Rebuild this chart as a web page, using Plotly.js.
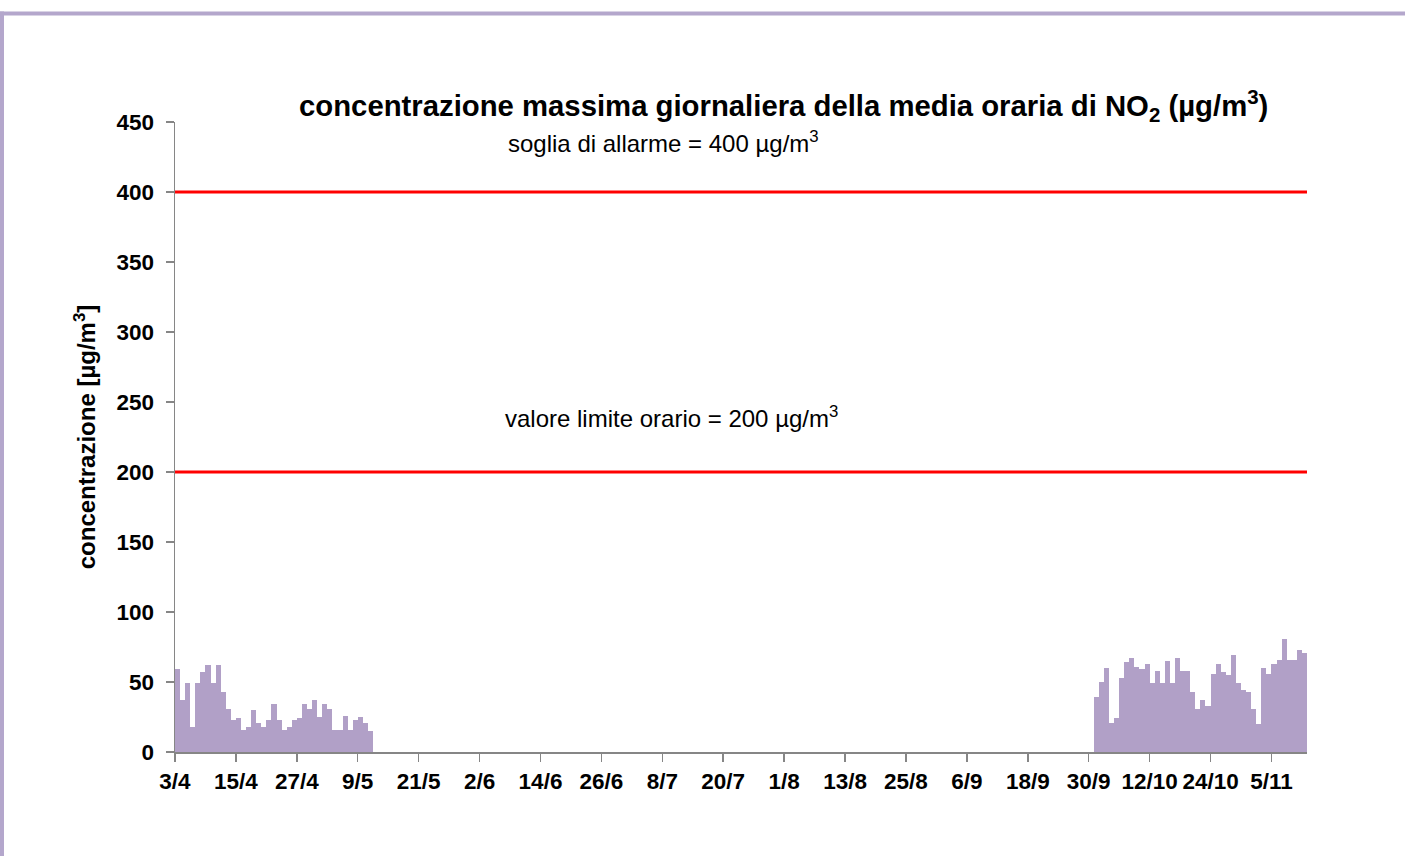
<!DOCTYPE html>
<html>
<head>
<meta charset="utf-8">
<script src="https://cdn.plot.ly/plotly-3.0.1.min.js"></script>
<style>
  html, body { margin: 0; padding: 0; background: #ffffff; }
  #chart { width: 1405px; height: 856px; }
</style>
</head>
<body>
<div id="chart"></div>
<script>
// ---- Data ----
const dates1 = [
  "2020-04-03","2020-04-04","2020-04-05","2020-04-06","2020-04-07","2020-04-08","2020-04-09","2020-04-10",
  "2020-04-11","2020-04-12","2020-04-13","2020-04-14","2020-04-15","2020-04-16","2020-04-17","2020-04-18",
  "2020-04-19","2020-04-20","2020-04-21","2020-04-22","2020-04-23","2020-04-24","2020-04-25","2020-04-26",
  "2020-04-27","2020-04-28","2020-04-29","2020-04-30","2020-05-01","2020-05-02","2020-05-03","2020-05-04",
  "2020-05-05","2020-05-06","2020-05-07","2020-05-08","2020-05-09","2020-05-10","2020-05-11"
];
const values1 = [59, 37, 49, 18, 49, 57, 62, 49, 62, 43, 31, 23, 24, 16, 18, 30, 21, 18, 23, 34,
                 23, 16, 18, 23, 24, 34, 31, 37, 25, 34, 31, 16, 16, 26, 16, 23, 25, 21, 15];

const dates2 = [
  "2020-10-01","2020-10-02","2020-10-03","2020-10-04","2020-10-05","2020-10-06","2020-10-07","2020-10-08",
  "2020-10-09","2020-10-10","2020-10-11","2020-10-12","2020-10-13","2020-10-14","2020-10-15","2020-10-16",
  "2020-10-17","2020-10-18","2020-10-19","2020-10-20","2020-10-21","2020-10-22","2020-10-23","2020-10-24",
  "2020-10-25","2020-10-26","2020-10-27","2020-10-28","2020-10-29","2020-10-30","2020-10-31","2020-11-01",
  "2020-11-02","2020-11-03","2020-11-04","2020-11-05","2020-11-06","2020-11-07","2020-11-08","2020-11-09",
  "2020-11-10","2020-11-11"
];
const values2 = [39, 50, 60, 21, 24, 53, 64, 67, 61, 59, 63, 49, 58, 49, 65, 49, 67, 58, 58, 43,
                 31, 37, 33, 56, 63, 57, 55, 69, 49, 44, 43, 31, 20, 60, 56, 63, 66, 81, 66, 66, 73, 71];

const tickDates = ["2020-04-03","2020-04-15","2020-04-27","2020-05-09","2020-05-21","2020-06-02","2020-06-14",
  "2020-06-26","2020-07-08","2020-07-20","2020-08-01","2020-08-13","2020-08-25","2020-09-06","2020-09-18",
  "2020-09-30","2020-10-12","2020-10-24","2020-11-05"];
const tickLabels = ["3/4","15/4","27/4","9/5","21/5","2/6","14/6","26/6","8/7","20/7","1/8","13/8","25/8",
  "6/9","18/9","30/9","12/10","24/10","5/11"];
const xRange = ["2020-04-03","2020-11-12"];

const thresholds = [400, 200];
const thresholdLabels = ["soglia di allarme = 400 µg/m<sup>3</sup>", "valore limite orario = 200 µg/m<sup>3</sup>"];

// ---- Layout geometry ----
const W = 1405, H = 856;
const M = {l: 175, r: 98, t: 122, b: 104};
const PW = W - M.l - M.r, PH = H - M.t - M.b;
const px = x => (x - M.l) / PW;
const py = y => (H - M.b - y) / PH;

const barColor = "#b1a0c7";
const frameColor = "#b4a7cc";
const axisColor = "#868686";
const FONT = "Liberation Sans, Arial, sans-serif";
const DAY = 86400000;

const barTrace = (x, y) => ({
  type: "bar", x: x, y: y,
  xperiod: DAY, xperiodalignment: "middle",
  width: DAY,
  marker: {color: barColor, line: {width: 0}},
  hoverinfo: "x+y", showlegend: false
});

const data = [barTrace(dates1, values1), barTrace(dates2, values2)];

const shapes = thresholds.map(v => ({
  type: "line", xref: "paper", yref: "y", x0: 0, x1: 1, y0: v, y1: v,
  line: {color: "#ff0000", width: 3}, layer: "above"
}));
// decorative frame (top and left bands)
shapes.push({type: "rect", xref: "paper", yref: "paper", x0: px(0), x1: px(W), y0: py(11.5), y1: py(15.5),
  fillcolor: frameColor, line: {width: 0}});
shapes.push({type: "rect", xref: "paper", yref: "paper", x0: px(0), x1: px(4), y0: py(11.5), y1: py(H),
  fillcolor: frameColor, line: {width: 0}});

const annotations = [
  {xref: "paper", yref: "paper", x: px(506), y: py(142), xanchor: "left", yanchor: "middle",
   text: thresholdLabels[0], showarrow: false, font: {family: FONT, size: 24, color: "#000"}},
  {xref: "paper", yref: "paper", x: px(503), y: py(417), xanchor: "left", yanchor: "middle",
   text: thresholdLabels[1], showarrow: false, font: {family: FONT, size: 24, color: "#000"}}
];

const layout = {
  width: W, height: H,
  margin: M,
  paper_bgcolor: "#ffffff", plot_bgcolor: "#ffffff",
  bargap: 0,
  barmode: "overlay",
  title: {
    text: "concentrazione massima giornaliera della media oraria di NO<sub>2</sub> (µg/m<sup>3</sup>)",
    font: {family: FONT, size: 29.3, weight: 700, color: "#000"},
    xref: "paper", x: px(299), xanchor: "left",
    yref: "container", y: 1 - 106 / H, yanchor: "middle"
  },
  xaxis: {
    type: "date", range: xRange,
    tickmode: "array", tickvals: tickDates, ticktext: tickLabels,
    ticks: "outside", ticklen: 8, tickwidth: 1.5, tickcolor: axisColor,
    showline: true, linecolor: axisColor, linewidth: 1.5,
    showgrid: false, zeroline: false,
    tickfont: {family: FONT, size: 22.5, weight: 700, color: "#000"},
    fixedrange: true
  },
  yaxis: {
    range: [0, 450], dtick: 50, tick0: 0,
    ticks: "outside", ticklen: 8, tickwidth: 1.5, tickcolor: axisColor,
    ticklabelstandoff: 7,
    showline: true, linecolor: axisColor, linewidth: 1.5,
    showgrid: false, zeroline: false,
    tickfont: {family: FONT, size: 22.5, weight: 700, color: "#000"},
    title: {text: "concentrazione [µg/m<sup>3</sup>]", font: {family: FONT, size: 24, weight: 700, color: "#000"}, standoff: 14},
    fixedrange: true
  },
  shapes: shapes,
  annotations: annotations
};

Plotly.newPlot("chart", data, layout, {displayModeBar: false, staticPlot: true});
</script>
</body>
</html>
